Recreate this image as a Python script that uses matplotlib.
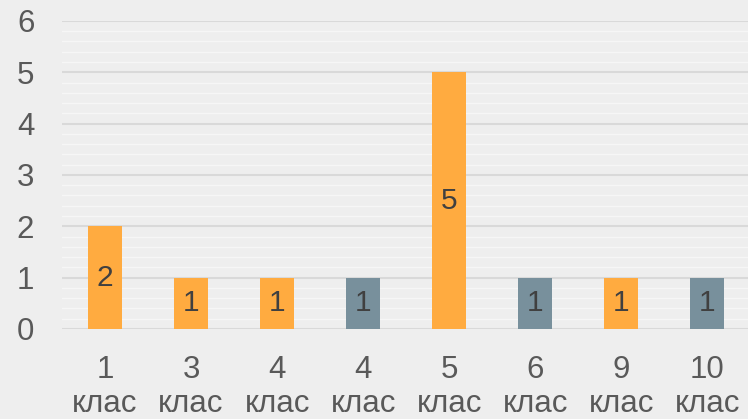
import matplotlib

matplotlib.use("Agg")

import matplotlib.pyplot as plt
import numpy as np
from matplotlib.ticker import MultipleLocator

CATEGORIES = ["1\nклас", "3\nклас", "4\nклас", "4\nклас", "5\nклас", "6\nклас", "9\nклас", "10\nклас"]
VALUES = [2, 1, 1, 1, 5, 1, 1, 1]
GROUP = ["orange", "orange", "orange", "grey", "orange", "grey", "orange", "grey"]

COLORS = {"orange": "#FFAB40", "grey": "#78909C"}
BG = "#EEEEEE"

plt.rcParams["font.family"] = ["Liberation Sans", "DejaVu Sans"]

fig = plt.figure(figsize=(7.48, 4.19), dpi=100, facecolor=BG)
ax = fig.add_axes([0.083, 0.215, 0.92, 0.735], facecolor=BG)

x = np.arange(len(VALUES))
ax.bar(x, VALUES, width=0.4, color=[COLORS[g] for g in GROUP], zorder=3)

for xi, v in zip(x, VALUES):
    ax.text(xi, v / 2, str(v), ha="center", va="center", fontsize=21.5, color="#404040", zorder=4)

ax.set_xlim(-0.5, len(VALUES) - 0.5)
ax.set_ylim(0, 6)
ax.yaxis.set_major_locator(MultipleLocator(1))
ax.yaxis.set_minor_locator(MultipleLocator(0.2))
ax.grid(axis="y", which="major", color="#D9D9D9", linewidth=1.5, zorder=1)
ax.grid(axis="y", which="minor", color="#F6F6F6", linewidth=1.0, zorder=0)
ax.set_axisbelow(True)

ax.set_xticks(x)
ax.set_xticklabels(CATEGORIES, fontsize=22.5, color="#595959", linespacing=1.18)
ax.tick_params(axis="y", labelsize=22.5, labelcolor="#595959", length=0, pad=20)
ax.tick_params(axis="x", length=0, pad=19)
ax.tick_params(axis="y", which="minor", length=0)
for side in ax.spines.values():
    side.set_visible(False)

fig.savefig("out.png", dpi=100, facecolor=BG)
